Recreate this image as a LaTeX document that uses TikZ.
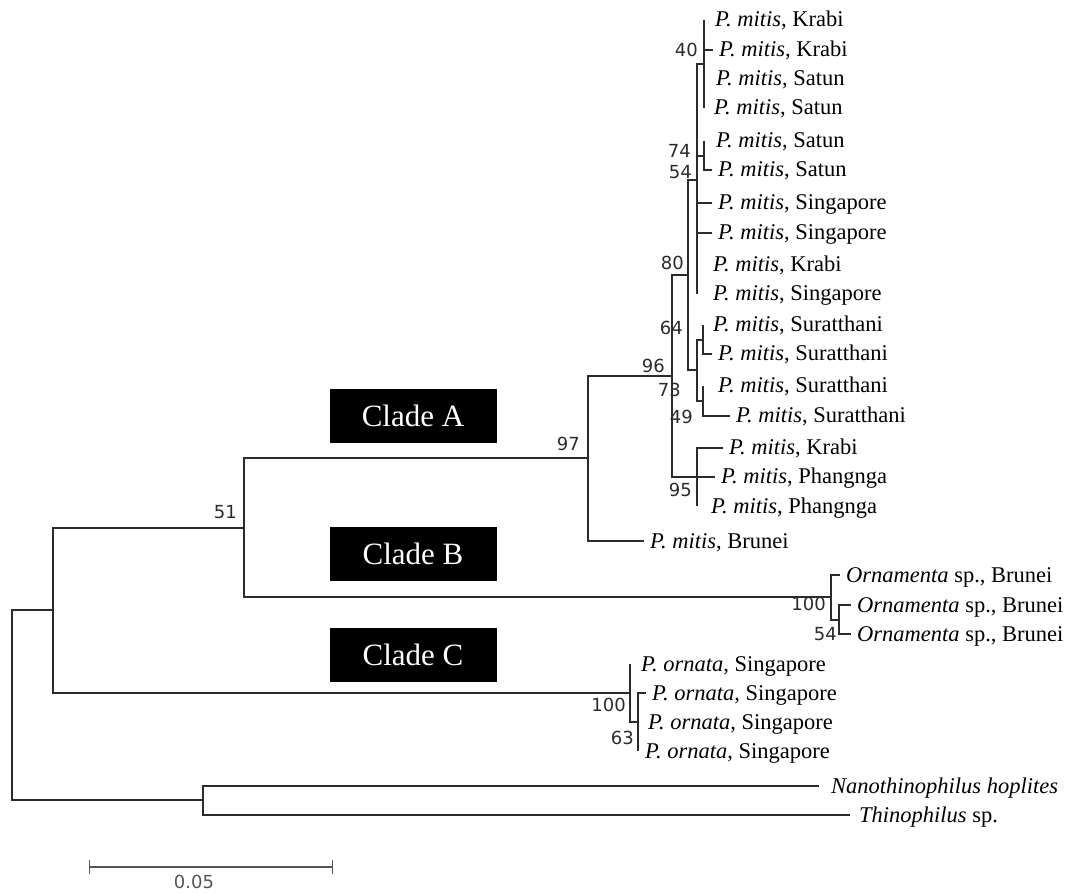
\documentclass[tikz,border=0pt]{standalone}
\usepackage{fontspec}
\setmainfont{Liberation Serif}
\newfontfamily\bootfont{DejaVu Sans}
\usepackage{tikz}
\usetikzlibrary{arrows.meta,positioning,calc}
\usepackage{xcolor}
\definecolor{trInk}{HTML}{2B2B2B}
\definecolor{trGray}{HTML}{555555}
\tikzset{
  br/.style={draw=trInk, line width=1.3pt},
  leaf/.style={anchor=west, inner sep=0pt, text height=16pt, text depth=2pt, font=\fontsize{22.5}{26}\selectfont},
  boot/.style={anchor=east, inner sep=0pt, font=\bootfont\fontsize{18}{20}\selectfont, text=trInk},
  clade/.style={fill=black, text=white, minimum width=167pt, minimum height=54pt, inner sep=0pt, font=\fontsize{31}{34}\selectfont},
}

\begin{document}
\begin{tikzpicture}[x=1pt, y=-1pt]
        \useasboundingbox (0,0) rectangle (1072,893);
        \foreach \i/\x/\y/\txt in {1/715/20/{\textit{P. mitis}, Krabi}, 2/719/50/{\textit{P. mitis}, Krabi}, 3/716/79/{\textit{P. mitis}, Satun}, 4/714/108/{\textit{P. mitis}, Satun}, 5/716/141/{\textit{P. mitis}, Satun}, 6/718/170/{\textit{P. mitis}, Satun}, 7/718/203/{\textit{P. mitis}, Singapore}, 8/718/233/{\textit{P. mitis}, Singapore}, 9/713/265/{\textit{P. mitis}, Krabi}, 10/713/294/{\textit{P. mitis}, Singapore}, 11/713/325/{\textit{P. mitis}, Suratthani}, 12/718/354/{\textit{P. mitis}, Suratthani}, 13/718/386/{\textit{P. mitis}, Suratthani}, 14/736/416/{\textit{P. mitis}, Suratthani}, 15/729/448/{\textit{P. mitis}, Krabi}, 16/721/477/{\textit{P. mitis}, Phangnga}, 17/711/506/{\textit{P. mitis}, Phangnga}, 18/650/541/{\textit{P. mitis}, Brunei}, 19/846/575/{\textit{Ornamenta} sp., Brunei}, 20/857/605/{\textit{Ornamenta} sp., Brunei}, 21/857/634/{\textit{Ornamenta} sp., Brunei}, 22/641/664/{\textit{P. ornata}, Singapore}, 23/652/693/{\textit{P. ornata}, Singapore}, 24/648/722/{\textit{P. ornata}, Singapore}, 25/645/751/{\textit{P. ornata}, Singapore}, 26/831/786/{\textit{Nanothinophilus hoplites}}, 27/859/815/{\textit{Thinophilus} sp.}}{
            \node[leaf] (l\i) at (\x,\y) {\txt};
        }
        \coordinate (n40) at (704,64);
        \coordinate (n74) at (704,156);
        \coordinate (n54) at (697,180);
        \coordinate (nS1) at (703,340);
        \coordinate (nS2) at (703,401);
        \coordinate (nS) at (697,370);
        \coordinate (n80) at (688,275);
        \coordinate (n95) at (697,477);
        \coordinate (n96) at (672,376);
        \coordinate (n97) at (588,458);
        \coordinate (nB2) at (839,620);
        \coordinate (nB) at (831,597);
        \coordinate (n51) at (244,528);
        \coordinate (nC2) at (638,722);
        \coordinate (nC) at (630,693);
        \coordinate (nIn) at (53,610);
        \coordinate (nOut) at (203,800);
        \coordinate (root) at (12,705);
        \foreach \a/\b in {root/nIn, root/nOut, nIn/n51, nIn/nC, n51/n97, n51/nB, n97/n96, n96/n80, n96/n95, n80/n54, n80/nS, n54/n40, n54/n74, nS/nS1, nS/nS2, nB/nB2, nC/nC2}
            \draw[br] (\a) |- (\b);
        \foreach \a/\b in {n40/2, n74/6, n54/7, n54/8, nS1/12, nS2/14, n95/15, n95/16, n97/18, nB/19, nB2/20, nB2/21, nC2/23}
            \draw[br] (\a) |- ([xshift=-6pt]l\b.west);
        \foreach \a/\b in {n40/1, n40/3, n40/4, n74/5, n54/9, n54/10, nS1/11, nS2/13, n95/17, nC/22, nC2/24, nC2/25}
            \draw[br] (\a) |- (\a |- l\b.west);
        \draw[br] (nOut) |- ([xshift=-12pt]l26.west);
        \draw[br] (nOut) |- ([xshift=-9pt]l27.west);
        \foreach \v/\x/\y [count=\k] in {40/698/50, 74/691/151, 54/692/172, 80/684/263, 64/683/328, 96/665/366, 73/681/390, 49/693/417, 95/692/490, 97/580/444, 51/237/512, 100/826/604, 54/837/634, 100/626/705, 63/634/738}
            \node[boot] (bs\k) at (\x,\y) {\v};
        \node[clade] (cladeA) at (413,416) {Clade A};
        \node[clade] (cladeB) at (413,554) {Clade B};
        \node[clade] (cladeC) at (413,655) {Clade C};
        \coordinate (sbL) at (89,867);
        \coordinate (sbR) at (333,867);
        \draw[draw=trGray, line width=1.3pt, {Bar[width=14pt]}-{Bar[width=14pt]}] (sbL) -- (sbR);
        \node[boot, anchor=center, text=trGray] (sbLbl) at (194,882) {0.05};
    \end{tikzpicture}
\end{document}
